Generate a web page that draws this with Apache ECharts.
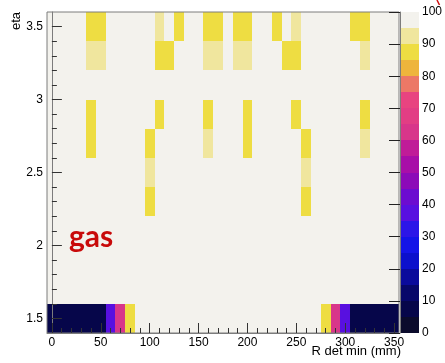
<!DOCTYPE html>
<html>
<head>
<meta charset="utf-8">
<script src="https://cdn.jsdelivr.net/npm/echarts@6/dist/echarts.min.js"></script>
<style>
  html, body { margin: 0; padding: 0; background: #ffffff; }
  #chart { width: 445px; height: 363px; }
</style>
</head>
<body>
<div id="chart"></div>
<script>
// ---- Histogram binning: bin centres along R (mm) and eta ----
const R_BINS = [0, 10, 20, 30, 40, 50, 60, 70, 80, 90, 100, 110, 120, 130, 140, 150, 160, 170,
                180, 190, 200, 210, 220, 230, 240, 250, 260, 270, 280, 290, 300, 310, 320, 330, 340, 350];
const ETA_BINS = [3.5, 3.3, 3.1, 2.9, 2.7, 2.5, 2.3, 2.1, 1.9, 1.7, 1.5];
const R_BIN_WIDTH = 10;
const ETA_BIN_WIDTH = 0.2;

// ---- Efficiency (%) per eta row, one entry per R bin ----
const EFF_ETA_3_5 = [100,100,100,100, 88, 88,100,100,100,100,100, 93,100, 88,100,100, 88, 88,
                     100, 88, 88,100,100, 88,100, 93,100,100,100,100,100, 88, 88,100,100,100];
const EFF_ETA_3_3 = [100,100,100,100, 93, 93,100,100,100,100,100, 88, 88,100,100,100, 93, 93,
                     100, 93, 93,100,100,100, 88, 88,100,100,100,100,100,100, 93,100,100,100];
const EFF_ETA_3_1 = [100,100,100,100,100,100,100,100,100,100,100,100,100,100,100,100,100,100,
                     100,100,100,100,100,100,100,100,100,100,100,100,100,100,100,100,100,100];
const EFF_ETA_2_9 = [100,100,100,100, 88,100,100,100,100,100,100, 88,100,100,100,100, 88,100,
                     100,100, 88,100,100,100,100, 88,100,100,100,100,100,100, 88,100,100,100];
const EFF_ETA_2_7 = [100,100,100,100, 88,100,100,100,100,100, 88,100,100,100,100,100, 93,100,
                     100,100, 88,100,100,100,100,100, 88,100,100,100,100,100, 93,100,100,100];
const EFF_ETA_2_5 = [100,100,100,100,100,100,100,100,100,100, 93,100,100,100,100,100,100,100,
                     100,100,100,100,100,100,100,100, 93,100,100,100,100,100,100,100,100,100];
const EFF_ETA_2_3 = [100,100,100,100,100,100,100,100,100,100, 88,100,100,100,100,100,100,100,
                     100,100,100,100,100,100,100,100, 88,100,100,100,100,100,100,100,100,100];
const EFF_ETA_2_1 = [100,100,100,100,100,100,100,100,100,100,100,100,100,100,100,100,100,100,
                     100,100,100,100,100,100,100,100,100,100,100,100,100,100,100,100,100,100];
const EFF_ETA_1_9 = [100,100,100,100,100,100,100,100,100,100,100,100,100,100,100,100,100,100,
                     100,100,100,100,100,100,100,100,100,100,100,100,100,100,100,100,100,100];
const EFF_ETA_1_7 = [100,100,100,100,100,100,100,100,100,100,100,100,100,100,100,100,100,100,
                     100,100,100,100,100,100,100,100,100,100,100,100,100,100,100,100,100,100];
const EFF_ETA_1_5 = [  8,  8,  8,  8,  8,  8, 38, 62, 88,100,100,100,100,100,100,100,100,100,
                     100,100,100,100,100,100,100,100,100,100, 88, 62, 38,  8,  8,  8,  8,  8];
const EFFICIENCY_ROWS = [EFF_ETA_3_5, EFF_ETA_3_3, EFF_ETA_3_1, EFF_ETA_2_9, EFF_ETA_2_7, EFF_ETA_2_5,
                         EFF_ETA_2_3, EFF_ETA_2_1, EFF_ETA_1_9, EFF_ETA_1_7, EFF_ETA_1_5];

// ---- Axis ticks ----
const R_MAJOR_TICKS = [0, 50, 100, 150, 200, 250, 300, 350];
const R_MINOR_TICKS = [10, 20, 30, 40, 60, 70, 80, 90, 110, 120, 130, 140, 160, 170, 180, 190,
                       210, 220, 230, 240, 260, 270, 280, 290, 310, 320, 330, 340];
const ETA_MAJOR_TICKS = [1.5, 2, 2.5, 3, 3.5];
const ETA_MINOR_TICKS = [1.6, 1.7, 1.8, 1.9, 2.1, 2.2, 2.3, 2.4, 2.6, 2.7, 2.8, 2.9, 3.1, 3.2, 3.3, 3.4];

// ---- Colour palette: 20 contour levels from 0 to 100 ----
const CONTOUR_LEVELS = [0, 5, 10, 15, 20, 25, 30, 35, 40, 45, 50, 55, 60, 65, 70, 75, 80, 85, 90, 95];
const LEVEL_STEP = 5;
const PALETTE = ['#0b0b2c', '#06064a', '#07076a', '#0a0a9c', '#0c10cc', '#1414e8', '#2c16e8', '#5810e0',
                 '#6c0cd0', '#8c0ab8', '#a80ea8', '#c01c98', '#d8368a', '#e23e84', '#e84480', '#ec7866',
                 '#eeb53c', '#eedd42', '#f0e69e', '#f3f2ed'];

const FONT = '"Liberation Sans", Arial, Helvetica, sans-serif';
const FRAME_GREY = '#7c7c7c';
const TICK_COLOR = '#333333';

const cells = [];
EFFICIENCY_ROWS.forEach((row, r) => {
  row.forEach((eff, c) => cells.push([R_BINS[c], ETA_BINS[r], eff]));
});
const paletteCells = CONTOUR_LEVELS.map(lo => [0.5, lo + LEVEL_STEP / 2, lo + LEVEL_STEP / 2]);

function renderCell(params, api) {
  const x = api.value(0), y = api.value(1);
  const a = api.coord([x - R_BIN_WIDTH / 2, y + ETA_BIN_WIDTH / 2]);
  const b = api.coord([x + R_BIN_WIDTH / 2, y - ETA_BIN_WIDTH / 2]);
  const x0 = Math.round(a[0]), y0 = Math.round(a[1]);
  const x1 = Math.round(b[0]), y1 = Math.round(b[1]);
  return { type: 'rect', shape: { x: x0, y: y0, width: x1 - x0, height: y1 - y0 },
           style: { fill: api.visual('color') } };
}

function renderLevel(params, api) {
  const mid = api.value(1);
  const a = api.coord([0, mid + LEVEL_STEP / 2]);
  const b = api.coord([1, mid - LEVEL_STEP / 2]);
  const x0 = Math.round(a[0]), y0 = Math.round(a[1]);
  const x1 = Math.round(b[0]), y1 = Math.round(b[1]);
  return { type: 'rect', shape: { x: x0, y: y0, width: x1 - x0, height: y1 - y0 },
           style: { fill: api.visual('color') } };
}

const labelStyle = { color: '#000', fontSize: 12, fontFamily: FONT };

const option = {
  animation: false,
  backgroundColor: '#ffffff',
  grid: [
    { left: 47, top: 12, width: 352, height: 321, show: true, borderColor: FRAME_GREY, borderWidth: 1,
      backgroundColor: 'transparent', z: 5 },
    { left: 400, top: 12, width: 21, height: 321 }
  ],
  xAxis: [
    { gridIndex: 0, type: 'value', min: -5, max: 355, position: 'bottom', z: 10,
      axisLine: { show: true, lineStyle: { color: FRAME_GREY } },
      axisTick: { show: true, inside: true, length: 10, customValues: R_MAJOR_TICKS, lineStyle: { color: TICK_COLOR } },
      axisLabel: Object.assign({ customValues: R_MAJOR_TICKS, margin: 4 }, labelStyle),
      splitLine: { show: false } },
    { gridIndex: 0, type: 'value', min: -5, max: 355, position: 'bottom', z: 10,
      axisLine: { show: false },
      axisTick: { show: true, inside: true, length: 5, customValues: R_MINOR_TICKS, lineStyle: { color: TICK_COLOR } },
      axisLabel: { show: false }, splitLine: { show: false } },
    { gridIndex: 1, type: 'value', min: 0, max: 1, show: false }
  ],
  yAxis: [
    { gridIndex: 0, type: 'value', min: 1.4, max: 3.6, position: 'left', z: 10,
      axisLine: { show: true, lineStyle: { color: FRAME_GREY } },
      axisTick: { show: true, inside: true, length: 10, customValues: ETA_MAJOR_TICKS, lineStyle: { color: TICK_COLOR } },
      axisLabel: Object.assign({ customValues: ETA_MAJOR_TICKS, margin: 4 }, labelStyle),
      splitLine: { show: false } },
    { gridIndex: 0, type: 'value', min: 1.4, max: 3.6, position: 'left', z: 10,
      axisLine: { show: false },
      axisTick: { show: true, inside: true, length: 5, customValues: ETA_MINOR_TICKS, lineStyle: { color: TICK_COLOR } },
      axisLabel: { show: false }, splitLine: { show: false } },
    { gridIndex: 1, type: 'value', min: 0, max: 100, interval: 10, position: 'right', z: 10,
      axisLine: { show: true, lineStyle: { color: FRAME_GREY } },
      axisTick: { show: true, inside: true, length: 11, lineStyle: { color: '#222222' } },
      axisLabel: Object.assign({ margin: 3 }, labelStyle),
      splitLine: { show: false } }
  ],
  visualMap: {
    type: 'piecewise', show: false, dimension: 2, seriesIndex: [0, 1],
    pieces: CONTOUR_LEVELS.map((lo, i) => i === CONTOUR_LEVELS.length - 1
      ? { gte: lo, lte: lo + LEVEL_STEP, color: PALETTE[i] }
      : { gte: lo, lt: lo + LEVEL_STEP, color: PALETTE[i] })
  },
  series: [
    { type: 'custom', name: 'efficiency', xAxisIndex: 0, yAxisIndex: 0, data: cells,
      renderItem: renderCell, clip: true, silent: true, z: 1 },
    { type: 'custom', name: 'palette', xAxisIndex: 2, yAxisIndex: 2, data: paletteCells,
      renderItem: renderLevel, silent: true, z: 1 }
  ],
  graphic: [
    { type: 'text', x: 16, y: 12, rotation: Math.PI / 2,
      style: { text: 'eta', fill: '#000', font: '13px ' + FONT, align: 'right', verticalAlign: 'middle' } },
    { type: 'text', x: 401, y: 351,
      style: { text: 'R det min (mm)', fill: '#000', font: '13px ' + FONT, align: 'right', verticalAlign: 'middle' } },
    { type: 'text', x: 69, y: 237, z: 20,
      style: { text: 'gas', fill: '#c80a0a', font: 'bold 30px Lato, sans-serif', align: 'left', verticalAlign: 'middle' } },
    // small red stroke clipped at the top edge
    { type: 'line', z: 20,
      shape: { x1: 437, y1: 0, x2: 439.5, y2: 5 },
      style: { stroke: '#d01010', lineWidth: 1.5 } }
  ]
};

const chart = echarts.init(document.getElementById('chart'), null, { renderer: 'canvas' });
chart.setOption(option);
</script>
</body>
</html>
